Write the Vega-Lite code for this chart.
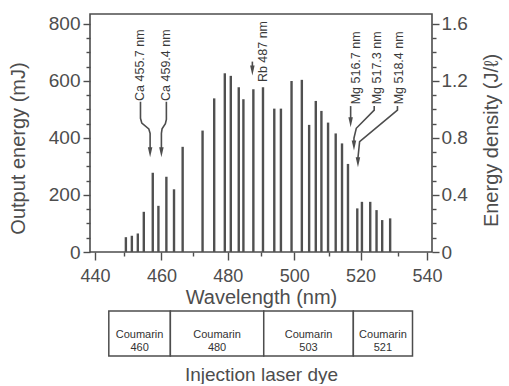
{
  "$schema": "https://vega.github.io/schema/vega-lite/v6.json",
  "background": "white",
  "padding": {"left": 7, "top": 13, "right": 7, "bottom": 0},
  "spacing": 2,
  "config": {
    "font": "Liberation Sans",
    "view": {"stroke": "#4d4d4d", "strokeWidth": 1.6},
    "axis": {
      "domain": false, "grid": false,
      "tickColor": "#4d4d4d", "tickWidth": 1.4,
      "labelColor": "#4d4d4d", "titleColor": "#4d4d4d",
      "labelFont": "Liberation Sans", "titleFont": "Liberation Sans",
      "labelFontSize": 19, "titleFontSize": 20, "titleFontWeight": "normal"
    }
  },
  "datasets": {
    "bars": [
      {"wavelength": 449.3, "energy": 52}, {"wavelength": 451.1, "energy": 57},
      {"wavelength": 452.9, "energy": 65}, {"wavelength": 454.7, "energy": 141},
      {"wavelength": 457.4, "energy": 278}, {"wavelength": 459.1, "energy": 162},
      {"wavelength": 461.5, "energy": 264}, {"wavelength": 463.8, "energy": 220},
      {"wavelength": 466.4, "energy": 369}, {"wavelength": 472.4, "energy": 426},
      {"wavelength": 475.9, "energy": 539}, {"wavelength": 479.1, "energy": 627},
      {"wavelength": 480.9, "energy": 618}, {"wavelength": 483.3, "energy": 578},
      {"wavelength": 484.7, "energy": 536}, {"wavelength": 487.7, "energy": 571},
      {"wavelength": 490.6, "energy": 578}, {"wavelength": 494.0, "energy": 503},
      {"wavelength": 496.0, "energy": 503}, {"wavelength": 499.2, "energy": 600},
      {"wavelength": 502.3, "energy": 604}, {"wavelength": 504.5, "energy": 446},
      {"wavelength": 506.5, "energy": 530}, {"wavelength": 508.2, "energy": 495},
      {"wavelength": 510.2, "energy": 454}, {"wavelength": 512.5, "energy": 416},
      {"wavelength": 514.4, "energy": 381}, {"wavelength": 516.2, "energy": 309},
      {"wavelength": 519.0, "energy": 153}, {"wavelength": 520.4, "energy": 176},
      {"wavelength": 522.9, "energy": 176}, {"wavelength": 524.8, "energy": 147},
      {"wavelength": 526.5, "energy": 112}, {"wavelength": 528.9, "energy": 118}
    ],
    "arrows": [
      {"arrow": "Ca1", "order": 1, "wavelength": 453.7, "energy": 527},
      {"arrow": "Ca1", "order": 2, "wavelength": 453.7, "energy": 469},
      {"arrow": "Ca1", "order": 3, "wavelength": 454.1, "energy": 452},
      {"arrow": "Ca1", "order": 4, "wavelength": 456.2, "energy": 432},
      {"arrow": "Ca1", "order": 5, "wavelength": 456.6, "energy": 416},
      {"arrow": "Ca1", "order": 6, "wavelength": 456.6, "energy": 360},
      {"arrow": "Ca2", "order": 1, "wavelength": 461.5, "energy": 527},
      {"arrow": "Ca2", "order": 2, "wavelength": 461.5, "energy": 465},
      {"arrow": "Ca2", "order": 3, "wavelength": 461.2, "energy": 450},
      {"arrow": "Ca2", "order": 4, "wavelength": 460.2, "energy": 432},
      {"arrow": "Ca2", "order": 5, "wavelength": 460.0, "energy": 416},
      {"arrow": "Ca2", "order": 6, "wavelength": 460.0, "energy": 360},
      {"arrow": "Rb", "order": 1, "wavelength": 487.4, "energy": 668},
      {"arrow": "Rb", "order": 2, "wavelength": 487.4, "energy": 645},
      {"arrow": "Mg1", "order": 1, "wavelength": 517.0, "energy": 512},
      {"arrow": "Mg1", "order": 2, "wavelength": 517.0, "energy": 462},
      {"arrow": "Mg2", "order": 1, "wavelength": 524.1, "energy": 512},
      {"arrow": "Mg2", "order": 2, "wavelength": 524.1, "energy": 498},
      {"arrow": "Mg2", "order": 3, "wavelength": 518.7, "energy": 434},
      {"arrow": "Mg2", "order": 4, "wavelength": 518.0, "energy": 400},
      {"arrow": "Mg2", "order": 5, "wavelength": 518.0, "energy": 385},
      {"arrow": "Mg3", "order": 1, "wavelength": 531.1, "energy": 512},
      {"arrow": "Mg3", "order": 2, "wavelength": 531.1, "energy": 498},
      {"arrow": "Mg3", "order": 3, "wavelength": 519.7, "energy": 387},
      {"arrow": "Mg3", "order": 4, "wavelength": 519.2, "energy": 330},
      {"arrow": "Mg3", "order": 5, "wavelength": 519.2, "energy": 325}
    ],
    "heads": [
      {"arrow": "Ca1", "wavelength": 456.6, "energy": 350},
      {"arrow": "Ca2", "wavelength": 460.0, "energy": 350},
      {"arrow": "Rb", "wavelength": 487.4, "energy": 637},
      {"arrow": "Mg1", "wavelength": 517.0, "energy": 455},
      {"arrow": "Mg2", "wavelength": 518.0, "energy": 374},
      {"arrow": "Mg3", "wavelength": 519.2, "energy": 315}
    ],
    "labels": [
      {"label": "Ca 455.7 nm", "wavelength": 453.7, "energy": 530},
      {"label": "Ca 459.4 nm", "wavelength": 461.5, "energy": 530},
      {"label": "Rb 487 nm", "wavelength": 490.7, "energy": 596},
      {"label": "Mg 516.7 nm", "wavelength": 518.6, "energy": 518},
      {"label": "Mg 517.3 nm", "wavelength": 524.8, "energy": 518},
      {"label": "Mg 518.4 nm", "wavelength": 531.7, "energy": 518}
    ],
    "dyes": [
      {"dye": "Coumarin 460", "start": 445.5, "end": 463.5, "mid": 454.5},
      {"dye": "Coumarin 480", "start": 463.5, "end": 490.8, "mid": 477.15},
      {"dye": "Coumarin 503", "start": 490.8, "end": 517.0, "mid": 503.9},
      {"dye": "Coumarin 521", "start": 517.0, "end": 534.3, "mid": 525.65}
    ]
  },
  "vconcat": [
    {
      "width": 342,
      "height": 238,
      "layer": [
        {
          "layer": [
            {
              "data": {"name": "bars"},
              "mark": {"type": "bar", "size": 2.4, "color": "#505050"},
              "encoding": {
                "x": {"field": "wavelength", "type": "quantitative",
                  "scale": {"domain": [440, 540], "nice": false, "zero": false},
                  "axis": {"values": [440, 460, 480, 500, 520, 540], "tickSize": 8, "labelPadding": 7, "labelFontSize": 18,
                    "title": "Wavelength (nm)", "titlePadding": 2}},
                "y": {"field": "energy", "type": "quantitative",
                  "scale": {"domain": [0, 835], "nice": false},
                  "axis": {"values": [0, 200, 400, 600, 800], "tickSize": 7, "labelPadding": 3,
                    "title": "Output energy (mJ)", "titlePadding": 20, "titleY": 134}}
              }
            },
            {
              "data": {"name": "arrows"},
              "mark": {"type": "line", "color": "#4d4d4d", "strokeWidth": 1.6},
              "encoding": {
                "x": {"field": "wavelength", "type": "quantitative"},
                "y": {"field": "energy", "type": "quantitative"},
                "detail": {"field": "arrow"},
                "order": {"field": "order"}
              }
            },
            {
              "data": {"name": "heads"},
              "mark": {"type": "point", "shape": "M-0.45,-1L0.45,-1L0,1Z", "filled": true, "size": 100, "color": "#4d4d4d", "opacity": 1},
              "encoding": {
                "x": {"field": "wavelength", "type": "quantitative"},
                "y": {"field": "energy", "type": "quantitative"}
              }
            },
            {
              "data": {"name": "labels"},
              "mark": {"type": "text", "angle": 270, "align": "left", "baseline": "middle", "fontSize": 12.5, "color": "#3a3a3a", "font": "Liberation Sans"},
              "encoding": {
                "x": {"field": "wavelength", "type": "quantitative"},
                "y": {"field": "energy", "type": "quantitative"},
                "text": {"field": "label"}
              }
            }
          ]
        },
        {
          "data": {"values": [{}]},
          "mark": {"type": "rule", "opacity": 0},
          "encoding": {
            "y": {"datum": 0, "type": "quantitative",
              "scale": {"domain": [0, 835], "nice": false},
              "axis": {"orient": "left", "values": [50, 100, 150, 250, 300, 350, 450, 500, 550, 650, 700, 750], "labels": false, "tickSize": 4, "title": null}}
          }
        },
        {
          "data": {"values": [{}]},
          "mark": {"type": "rule", "opacity": 0},
          "encoding": {
            "y": {"datum": 0, "type": "quantitative",
              "scale": {"domain": [0, 1.67], "nice": false},
              "axis": {"orient": "right", "values": [0, 0.4, 0.8, 1.2, 1.6], "format": "~g", "tickSize": 7, "labelPadding": 2,
                "title": "Energy density (J/ℓ)", "titleAngle": 270, "titleBaseline": "top", "titlePadding": 14, "titleY": 126}}
          }
        },
        {
          "data": {"values": [{}]},
          "mark": {"type": "rule", "opacity": 0},
          "encoding": {
            "y": {"datum": 0, "type": "quantitative",
              "scale": {"domain": [0, 1.67], "nice": false},
              "axis": {"orient": "right", "values": [0.1, 0.2, 0.3, 0.5, 0.6, 0.7, 0.9, 1.0, 1.1, 1.3, 1.4, 1.5], "labels": false, "tickSize": 4, "title": null}}
          }
        },
        {
          "data": {"values": [{}]},
          "mark": {"type": "rule", "opacity": 0},
          "encoding": {
            "x": {"datum": 440, "type": "quantitative",
              "scale": {"domain": [440, 540], "nice": false, "zero": false},
              "axis": {"orient": "bottom", "values": [450, 470, 490, 510, 530], "labels": false, "tickSize": 4, "title": null}}
          }
        }
      ],
      "resolve": {"scale": {"x": "independent", "y": "independent"}}
    },
    {
      "width": 342,
      "height": 45,
      "view": {"stroke": null},
      "data": {"name": "dyes"},
      "layer": [
        {
          "mark": {"type": "rect", "fill": "white", "stroke": "#4d4d4d", "strokeWidth": 1.5},
          "encoding": {
            "x": {"field": "start", "type": "quantitative",
              "scale": {"domain": [440, 540], "nice": false, "zero": false},
              "axis": {"labels": false, "ticks": false, "domain": false, "title": "Injection laser dye", "titlePadding": 9, "titleFontSize": 19}},
            "x2": {"field": "end"}
          }
        },
        {
          "mark": {"type": "text", "fontSize": 11, "lineBreak": " ", "color": "#333333", "dy": 1, "font": "Liberation Sans"},
          "encoding": {
            "x": {"field": "mid", "type": "quantitative",
              "axis": {"labels": false, "ticks": false, "domain": false, "title": "Injection laser dye", "titlePadding": 9, "titleFontSize": 19}},
            "text": {"field": "dye"}
          }
        }
      ]
    }
  ]
}
